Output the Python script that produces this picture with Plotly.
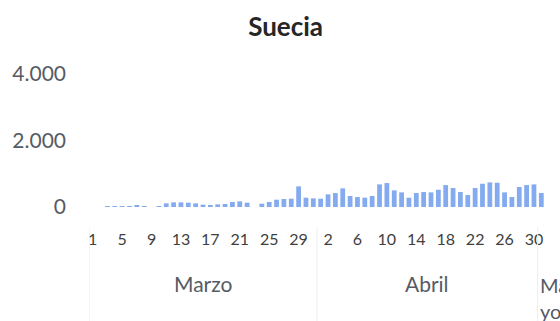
import plotly.graph_objects as go

# Daily new cases, 1 March - 1 May
meses = ["Marzo"] * 31 + ["Abril"] * 30 + ["Mayo"]
dias = list(range(1, 32)) + list(range(1, 31)) + [1]
casos = [
    0, 0, 5, 10, 15, 20, 50, 20, 0, 10,
    110, 140, 140, 130, 110, 70, 60, 80, 90, 150,
    170, 130, 0, 100, 150, 220, 240, 250, 620, 280,
    260,
    250, 380, 420, 560, 330, 300, 280, 330, 680, 720,
    500, 440, 280, 420, 450, 440, 520, 660, 570, 450,
    360, 570, 700, 740, 730, 440, 300, 600, 660, 680,
    420,
]
y_ticks = [0, 2000, 4000]
y_labels = ["0", "2.000", "4.000"]

idx = list(range(len(casos)))
x_tickvals = [i for i in idx if meses[i] != "Mayo" and (dias[i] - (1 if meses[i] == "Marzo" else 2)) % 4 == 0]
x_ticktext = [str(dias[i]) for i in x_tickvals]

fig = go.Figure(
    go.Bar(
        x=idx,
        y=casos,
        marker=dict(color="#84abef", line=dict(width=0)),
        hoverinfo="skip",
    )
)

fig.update_layout(
    width=560,
    height=321,
    margin=dict(l=82, r=15, t=73.5, b=114),
    paper_bgcolor="white",
    plot_bgcolor="white",
    bargap=0.35,
    showlegend=False,
    title=dict(
        text="<b>Suecia</b>",
        font=dict(family="Lato", size=26, color="#262626"),
        x=0.51,
        xanchor="center",
        y=1 - 27 / 321,
        yanchor="middle",
        xref="container",
        yref="container",
    ),
)

fig.update_xaxes(
    range=[-0.5, len(casos) - 0.5],
    tickvals=x_tickvals,
    ticktext=x_ticktext,
    tickfont=dict(family="Lato", size=16, color="#404040"),
    ticks="",
    ticklabelstandoff=21,
    showgrid=False,
    showline=False,
    zeroline=False,
)
fig.update_yaxes(
    range=[0, 4000],
    tickvals=y_ticks,
    ticktext=y_labels,
    tickfont=dict(family="Lato", size=21, color="#555b64"),
    ticks="",
    ticklabelstandoff=22,
    showgrid=False,
    showline=False,
    zeroline=False,
)

# Month group labels and separators beneath the day labels
grupos = []
for i, m in enumerate(meses):
    if not grupos or grupos[-1][0] != m:
        grupos.append([m, i, i])
    else:
        grupos[-1][2] = i

for nombre, ini, fin in grupos:
    if fin > ini:
        fig.add_annotation(
            x=(ini + fin) / 2, y=0, xref="x", yref="paper",
            text=nombre, showarrow=False, yshift=-76, yanchor="middle",
            font=dict(family="Lato", size=21, color="#555b64"),
        )
    else:
        fig.add_annotation(
            x=ini - 0.5, y=0, xref="x", yref="paper",
            text=nombre[:2] + "<br>" + nombre[2:], showarrow=False,
            xanchor="left", align="left", yshift=-64, yanchor="top",
            font=dict(family="Lato", size=20, color="#555b64"),
        )
    fig.add_shape(
        type="line", xref="x", yref="paper",
        x0=ini - 0.5, x1=ini - 0.5, ysizemode="pixel", yanchor=0,
        y0=-20, y1=-114, line=dict(color="#eeeeee", width=1),
    )

fig.write_html("out.html")
